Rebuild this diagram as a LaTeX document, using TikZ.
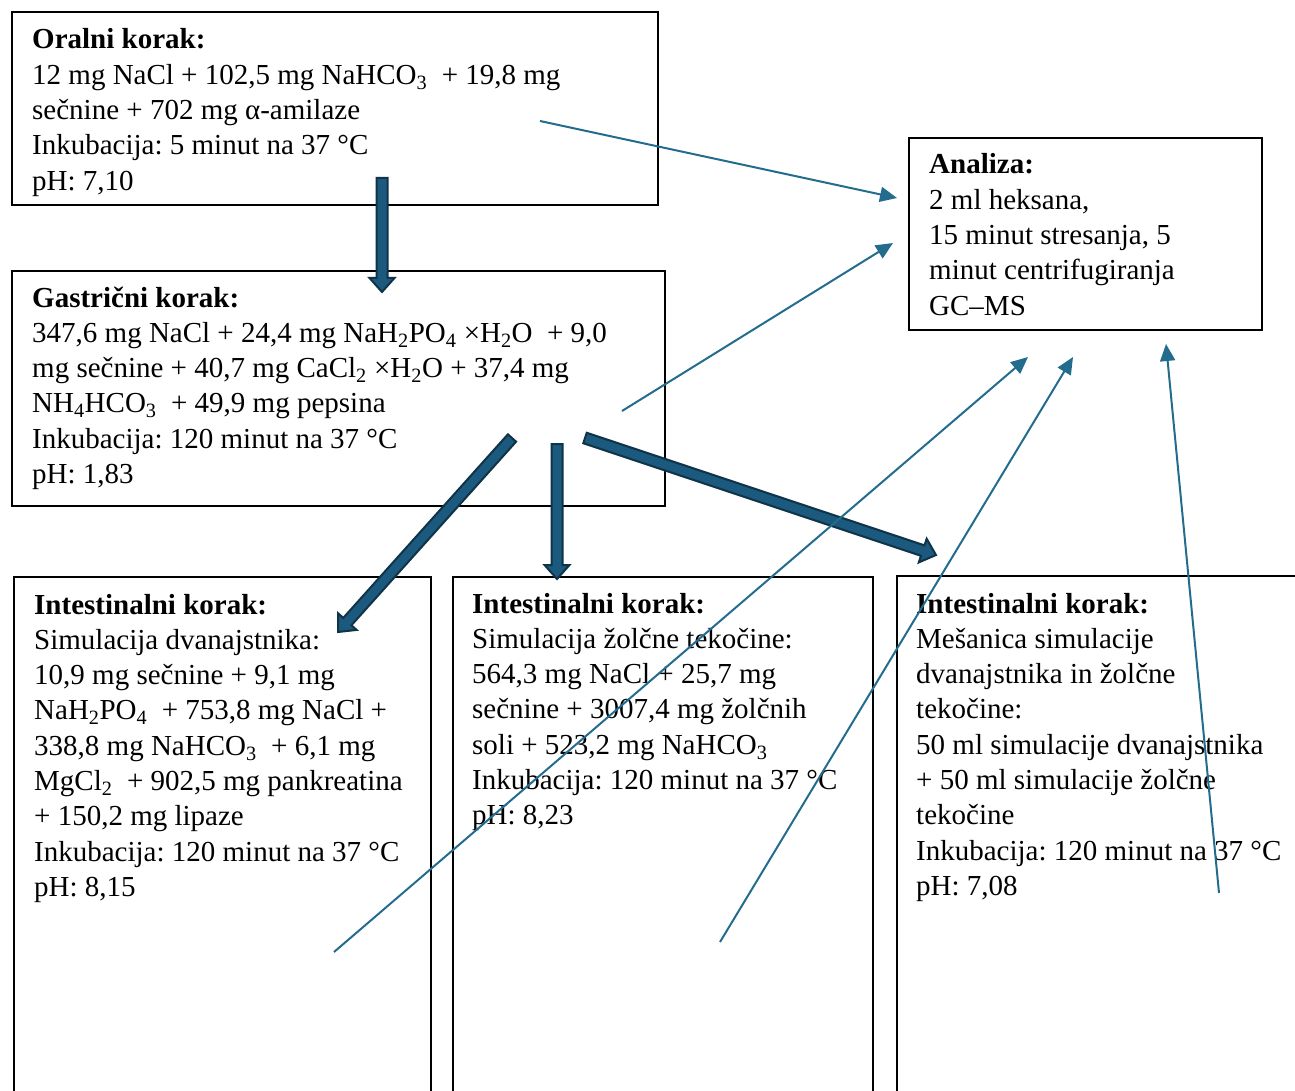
\documentclass[tikz,border=0pt]{standalone}
\usepackage{fontspec}
\setmainfont{Liberation Serif}
\usetikzlibrary{arrows.meta,calc}

\definecolor{shaftblue}{HTML}{1B5A7E}
\definecolor{shaftedge}{HTML}{0F3347}
\definecolor{linkblue}{HTML}{236C8E}

\newcommand{\fatlink}[2]{%
  \coordinate (fl-h) at ($(#2)!14pt!(#1)$);
  \filldraw[fatarrow] ($(#1)!5.5pt!90:(#2)$) -- ($(fl-h)!5.5pt!90:(#2)$)
    -- ($(fl-h)!12.5pt!90:(#2)$) -- (#2) -- ($(fl-h)!12.5pt!-90:(#2)$)
    -- ($(fl-h)!5.5pt!-90:(#2)$) -- ($(#1)!5.5pt!-90:(#2)$) -- cycle;}

\begin{document}
\begin{tikzpicture}[x=1pt,y=-1pt,
  frame/.style={draw=black,line width=2pt,anchor=north west,inner sep=0pt},
  txt/.style={anchor=base west,align=left,inner sep=0pt,text width=620pt,
    font=\fontsize{29}{35.3}\selectfont,
    execute at begin node={\spaceskip=0pt\xspaceskip=0pt\frenchspacing}},
  link/.style={draw=linkblue,line width=2pt,-{Triangle[length=17pt,width=15pt]}},
  fatarrow/.style={fill=shaftblue,draw=shaftedge,line width=2pt,line join=miter}]
\useasboundingbox (0,0) rectangle (1295,1091);
\node[frame,minimum width=646pt,minimum height=193pt] (oral) at (11,11) {};
\node[frame,minimum width=653pt,minimum height=235pt] (gastric) at (11,270) {};
\node[frame,minimum width=353pt,minimum height=192pt] (analiza) at (908,137) {};
\node[frame,minimum width=417pt,minimum height=540pt] (duod) at (13,576) {};
\node[frame,minimum width=420pt,minimum height=540pt] (bile) at (452,576) {};
\node[frame,minimum width=420pt,minimum height=540pt] (mix) at (896,575) {};

\node[txt] (oraltxt) at (32,49) {\textbf{Oralni korak:}\\
12 mg NaCl + 102,5 mg NaHCO\textsubscript{3} \ + 19,8 mg\\
sečnine + 702 mg α-amilaze\\
Inkubacija: 5 minut na 37 °C\\
pH: 7,10};
\node[txt] (gastrictxt) at (32,307) {\textbf{Gastrični korak:}\\
347,6 mg NaCl + 24,4 mg NaH\textsubscript{2}PO\textsubscript{4} ×H\textsubscript{2}O \ + 9,0\\
mg sečnine + 40,7 mg CaCl\textsubscript{2} ×H\textsubscript{2}O + 37,4 mg\\
NH\textsubscript{4}HCO\textsubscript{3} \ + 49,9 mg pepsina\\
Inkubacija: 120 minut na 37 °C\\
pH: 1,83};
\node[txt] (analizatxt) at (929,174) {\textbf{Analiza:}\\
2 ml heksana,\\
15 minut stresanja, 5\\
minut centrifugiranja\\
GC–MS};
\node[txt] (duodtxt) at (34,614) {\textbf{Intestinalni korak:}\\
Simulacija dvanajstnika:\\
10,9 mg sečnine + 9,1 mg\\
NaH\textsubscript{2}PO\textsubscript{4} \ + 753,8 mg NaCl +\\
338,8 mg NaHCO\textsubscript{3} \ + 6,1 mg\\
MgCl\textsubscript{2} \ + 902,5 mg pankreatina\\
+ 150,2 mg lipaze\\
Inkubacija: 120 minut na 37 °C\\
pH: 8,15};
\node[txt] (biletxt) at (472,613) {\textbf{Intestinalni korak:}\\
Simulacija žolčne tekočine:\\
564,3 mg NaCl + 25,7 mg\\
sečnine + 3007,4 mg žolčnih\\
soli + 523,2 mg NaHCO\textsubscript{3}\\
Inkubacija: 120 minut na 37 °C\\
pH: 8,23};
\node[txt] (mixtxt) at (916,613) {\textbf{Intestinalni korak:}\\
Mešanica simulacije\\
dvanajstnika in žolčne\\
tekočine:\\
50 ml simulacije dvanajstnika\\
+ 50 ml simulacije žolčne\\
tekočine\\
Inkubacija: 120 minut na 37 °C\\
pH: 7,08};

\coordinate (oral-s) at (382,178);
\coordinate (gastric-n) at (382,292);
\coordinate (gastric-s1) at (512,438);
\coordinate (duod-n) at (338,632);
\coordinate (gastric-s2) at (557,444);
\coordinate (bile-n) at (557,579);
\coordinate (gastric-s3) at (585,438);
\coordinate (mix-n) at (936,555);
\fatlink{oral-s}{gastric-n}
\fatlink{gastric-s1}{duod-n}
\fatlink{gastric-s2}{bile-n}
\fatlink{gastric-s3}{mix-n}

\coordinate (oral-e) at (540,121);
\coordinate (analiza-w1) at (897,198);
\coordinate (gastric-e) at (622,411);
\coordinate (analiza-w2) at (893,243);
\coordinate (duod-x) at (334,952);
\coordinate (analiza-s1) at (1028,357);
\coordinate (bile-x) at (720,942);
\coordinate (analiza-s2) at (1073,357);
\coordinate (mix-x) at (1219,893);
\coordinate (analiza-s3) at (1166,344);
\draw[link] (oral-e) -- (analiza-w1);
\draw[link] (gastric-e) -- (analiza-w2);
\draw[link] (duod-x) -- (analiza-s1);
\draw[link] (bile-x) -- (analiza-s2);
\draw[link] (mix-x) -- (analiza-s3);
\end{tikzpicture}
\end{document}
